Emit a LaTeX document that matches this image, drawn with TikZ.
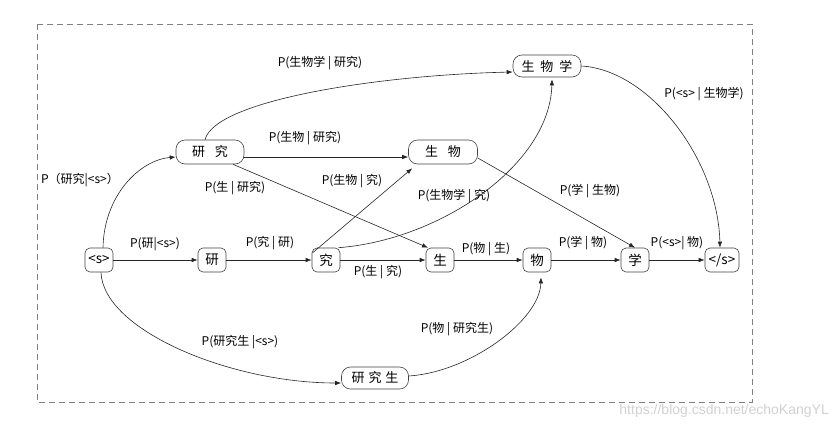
\documentclass[tikz,border=0pt]{standalone}
\usepackage{fontspec}
\setmainfont{Noto Sans CJK SC}
\newfontfamily\wmfont{Liberation Sans}
\usetikzlibrary{arrows.meta}
\tikzset{
  sm/.style={draw=black!75, line width=0.6pt, rounded corners=5pt, minimum width=28pt, minimum height=24pt, inner sep=0pt, font=\fontsize{13.5}{14}\selectfont},
  big/.style={draw=black!75, line width=0.6pt, rounded corners=9pt, minimum width=68pt, minimum height=24pt, inner sep=0pt, font=\fontsize{13}{13}\selectfont},
  lbl/.style={inner sep=0pt, font=\fontsize{12}{13}\selectfont},
  arr/.style={draw=black!85, line width=0.6pt, -{Latex[length=6pt,width=4.5pt]}},
  frame/.style={draw=black!50, line width=0.8pt, dash pattern=on 6pt off 4pt}
}
\begin{document}
\begin{tikzpicture}[x=1pt,y=-1pt]
\useasboundingbox (0,0) rectangle (829,429);
\draw[frame] (37,24) rectangle (752,402);

% nodes
\node[sm] (s) at (99,260) {<s>};
\node[sm] (yan) at (212,260) {研};
\node[sm] (jiu) at (326,260) {究};
\node[sm] (sheng) at (440,260) {生};
\node[sm] (wu) at (537,260) {物};
\node[sm] (xue) at (635,260) {学};
\node[sm, minimum width=34pt] (es) at (722,260) {</s>};
\node[big] (yanjiu) at (210,152) {研\hspace{0.75em}究};
\node[big, minimum width=69pt] (shengwu) at (443,152) {生\hspace{0.75em}物};
\node[big, minimum height=22pt] (swx) at (547,66) {生\hspace{0.45em}物\hspace{0.45em}学};
\node[big, minimum width=67pt, minimum height=22pt] (yjs) at (375,378) {研\hspace{0.3em}究\hspace{0.3em}生};

% straight chain
\draw[arr] (s) -- (yan);
\draw[arr] (yan) -- (jiu);
\draw[arr] (jiu) -- (sheng);
\draw[arr] (sheng) -- (wu);
\draw[arr] (wu) -- (xue);
\draw[arr] (xue) -- (es);

% other straight edges
\draw[arr] ([yshift=-5pt]yanjiu.east) -- ([yshift=-5pt]shengwu.west);
\draw[arr] ([xshift=23pt]yanjiu.south) -- ([xshift=-12pt]sheng.north);
\draw[arr] ([xshift=1pt,yshift=-5pt]jiu.north west) -- ([xshift=4pt,yshift=-4pt]shengwu.south west);
\draw[arr] ([yshift=-6pt]shengwu.east) -- (xue.north);

% curves
\draw[arr] ([xshift=4pt]s.north) .. controls (104,195) and (140,160) .. ([yshift=-5pt]yanjiu.west);
\draw[arr] ([xshift=2pt]s.south) .. controls (103,330) and (230,383) .. ([yshift=-5pt]yjs.west);
\draw[arr] ([xshift=-5pt]yanjiu.north) .. controls (215,100) and (380,75) .. ([yshift=-6pt]swx.west);
\draw[arr] ([xshift=-2pt]jiu.north east) .. controls (440,240) and (550,165) .. ([xshift=5pt,yshift=-2pt]swx.south);
\draw[arr] (swx.east) .. controls (650,70) and (718,160) .. ([xshift=-2pt]es.north);
\draw[arr] ([yshift=2pt]yjs.east) .. controls (470,372) and (540,320) .. ([xshift=4pt,yshift=-5pt]wu.south);

% labels
\node[lbl] (l1) at (155,244) {P(研|<s>)};
\node[lbl] (l2) at (270,243) {P(究 | 研)};
\node[lbl] (l3) at (378,272) {P(生 | 究)};
\node[lbl] (l4) at (486,249) {P(物 | 生)};
\node[lbl] (l5) at (583,243) {P(学 | 物)};
\node[lbl] (l6) at (677,243) {P(<s>| 物)};
\node[lbl] (l7) at (457,329) {P(物 | 研究生)};
\node[lbl] (l8) at (240,342) {P(研究生 |<s>)};
\node[lbl] (l9) at (80,180) {P（研究|<s>）};
\node[lbl] (l10) at (235,188) {P(生 | 研究)};
\node[lbl] (l11) at (305,138) {P(生物 | 研究)};
\node[lbl] (l12) at (352,181) {P(生物 | 究)};
\node[lbl] (l13) at (320,63) {P(生物学 | 研究)};
\node[lbl] (l14) at (454,196) {P(生物学 | 究)};
\node[lbl] (l15) at (590,191) {P(学 | 生物)};
\node[lbl] (l16) at (704,94) {P(<s> | 生物学)};

% watermark
\node[inner sep=0pt, anchor=east, text=black!18, font=\wmfont\fontsize{14}{14}\selectfont] (wm) at (829,411) {https://blog.csdn.net/echoKangYL};
\end{tikzpicture}
\end{document}
